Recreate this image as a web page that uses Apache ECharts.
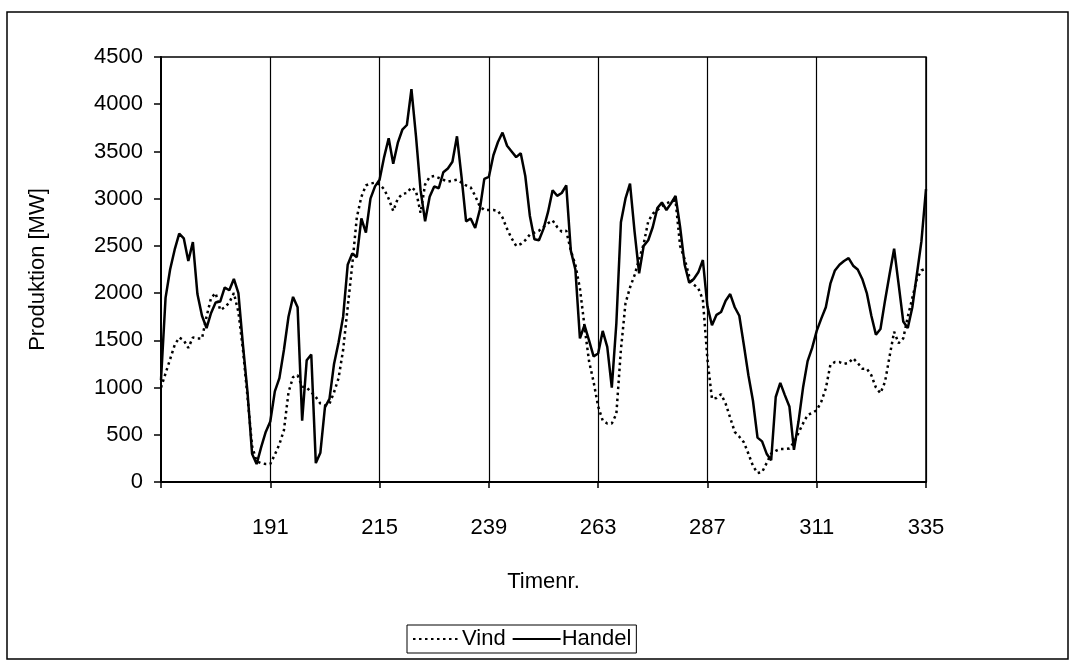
<!DOCTYPE html>
<html>
<head>
<meta charset="utf-8">
<script src="https://cdn.jsdelivr.net/npm/echarts@6/dist/echarts.min.js"></script>
<style>
  html, body { margin: 0; padding: 0; background: #fff; }
  #chart { width: 1076px; height: 664px; }
</style>
</head>
<body>
<div id="chart"></div>
<script>
// timer 167 .. 335
const hours = []
for (let h = 167; h <= 335; h++) hours.push(String(h))

const tickLabels = ['191', '215', '239', '263', '287', '311', '335']
const yTicks = [0, 500, 1000, 1500, 2000, 2500, 3000, 3500, 4000, 4500]

// Vind, aflæst time for time
const vind = [
  1000, 1150, 1300, 1450, 1530, 1500, 1420, 1530, 1520, 1520, 1750, 1950, 2000, 1820, 1850, 1900, 2000, 1800, 1400, 900, 380, 220, 200, 190,
  190, 290, 400, 550, 950, 1110, 1130, 1010, 1000, 950, 900, 830, 810, 830, 950, 1100, 1400, 1850, 2300, 2800, 3020, 3140, 3160, 3170,
  3150, 3100, 3000, 2870, 3000, 3050, 3060, 3120, 3080, 2850, 3150, 3230, 3240, 3220, 3200, 3180, 3190, 3200, 3170, 3140, 3120, 3030, 2920, 2880,
  2880, 2880, 2870, 2800, 2680, 2580, 2500, 2520, 2560, 2620, 2640, 2660, 2700, 2740, 2770, 2700, 2650, 2660, 2450, 2300, 2050, 1650, 1280, 1060,
  800, 650, 620, 620, 720, 1400, 1890, 2060, 2190, 2360, 2520, 2760, 2840, 2880, 2920, 2950, 2970, 2980, 2500, 2360, 2180, 2090, 2050, 1930,
  1300, 880, 890, 930, 830, 680, 530, 480, 420, 300, 170, 95, 105, 200, 300, 330, 350, 350, 355, 420, 520, 620, 710, 730,
  760, 850, 990, 1240, 1270, 1270, 1250, 1260, 1310, 1260, 1200, 1200, 1130, 1000, 940, 1060, 1330, 1590, 1470, 1520, 1750, 1950, 2150, 2240,
  2260
]

// Handel
const handel = [
  1080, 1950, 2250, 2460, 2630, 2580, 2340, 2540, 1990, 1760, 1630, 1790, 1900, 1910, 2060, 2030, 2150, 2000, 1450, 950, 300, 190, 370, 530,
  640, 960, 1100, 1400, 1750, 1960, 1850, 650, 1290, 1350, 200, 310, 790, 880, 1250, 1480, 1750, 2300, 2420, 2380, 2790, 2640, 3000, 3130,
  3200, 3440, 3640, 3370, 3590, 3730, 3780, 4160, 3660, 3090, 2760, 3020, 3130, 3110, 3280, 3320, 3390, 3660, 3230, 2760, 2790, 2690, 2880, 3210,
  3230, 3460, 3600, 3700, 3560, 3500, 3440, 3480, 3240, 2820, 2570, 2560, 2680, 2860, 3090, 3030, 3060, 3140, 2450, 2250, 1520, 1660, 1500, 1330,
  1360, 1600, 1430, 1000, 1680, 2750, 3000, 3160, 2650, 2210, 2500, 2560, 2700, 2900, 2960, 2880, 2950, 3030, 2700, 2300, 2110, 2150, 2220, 2350,
  1860, 1660, 1770, 1800, 1920, 1990, 1850, 1760, 1450, 1130, 860, 470, 430, 300, 230, 900, 1050, 920, 800, 340, 640, 1000, 1280, 1420,
  1600, 1730, 1850, 2100, 2240, 2300, 2340, 2370, 2290, 2250, 2150, 2000, 1760, 1560, 1620, 1920, 2200, 2470, 2090, 1700, 1630, 1850, 2200, 2550,
  3100
]

const font = '"Liberation Sans", Arial, sans-serif'
const fs = 22
const myChart = echarts.init(document.getElementById('chart'), null, { renderer: 'canvas' })

const option = {
  animation: false,
  backgroundColor: '#fff',
  textStyle: { fontFamily: font, color: '#000' },
  // ramme om hele figuren
  graphic: [{
    type: 'rect',
    shape: { x: 7, y: 12, width: 1061, height: 647 },
    style: { fill: 'none', stroke: '#000', lineWidth: 1.5 },
    silent: true
  }],
  grid: {
    left: 161,
    right: 150,
    top: 57,
    bottom: 182,
    show: true,
    borderColor: '#000',
    borderWidth: 1.5,
    outerBoundsMode: 'none'
  },
  legend: {
    data: ['Vind', 'Handel'],
    left: 407,
    bottom: 11,
    itemWidth: 48,
    itemHeight: 14,
    itemGap: 6,
    padding: [3, 5],
    borderColor: '#000',
    borderWidth: 1,
    // kun linjen i signaturen, ingen punkter
    itemStyle: { color: 'rgba(0,0,0,0)', borderWidth: 0, opacity: 0 },
    textStyle: { fontFamily: font, fontSize: fs, color: '#000', padding: [0, 0, 0, -4] }
  },
  xAxis: {
    type: 'category',
    data: hours,
    boundaryGap: false,
    name: 'Timenr.',
    nameLocation: 'middle',
    nameGap: 89,
    nameTextStyle: { fontFamily: font, fontSize: fs, color: '#000' },
    axisLine: { lineStyle: { color: '#000', width: 2 } },
    axisTick: {
      show: true,
      length: 6,
      interval: (i) => i % 24 === 0,
      lineStyle: { color: '#000', width: 1.5 }
    },
    axisLabel: {
      interval: (i, v) => tickLabels.includes(v),
      margin: 35,
      fontFamily: font,
      fontSize: fs,
      color: '#000'
    },
    splitLine: {
      show: true,
      interval: (i, v) => tickLabels.includes(v),
      lineStyle: { color: '#000', width: 1.2 }
    }
  },
  yAxis: {
    type: 'value',
    min: yTicks[0],
    max: yTicks[yTicks.length - 1],
    interval: 500,
    name: 'Produktion [MW]',
    nameLocation: 'middle',
    nameGap: 112,
    nameTextStyle: { fontFamily: font, fontSize: fs, color: '#000' },
    axisLine: { show: true, lineStyle: { color: '#000', width: 2 } },
    axisTick: { show: true, length: 7, lineStyle: { color: '#000', width: 1.5 } },
    axisLabel: {
      margin: 18,
      fontFamily: font,
      fontSize: fs,
      color: '#000',
      formatter: (v) => String(v)
    },
    splitLine: { show: false }
  },
  series: [
    {
      name: 'Vind',
      type: 'line',
      data: vind,
      symbol: 'none',
      lineStyle: { color: '#000', width: 2.5, type: [2.5, 3.5] },
      itemStyle: { color: '#000' }
    },
    {
      name: 'Handel',
      type: 'line',
      data: handel,
      symbol: 'none',
      lineStyle: { color: '#000', width: 2.5 },
      itemStyle: { color: '#000' }
    }
  ]
}

myChart.setOption(option)
</script>
</body>
</html>
